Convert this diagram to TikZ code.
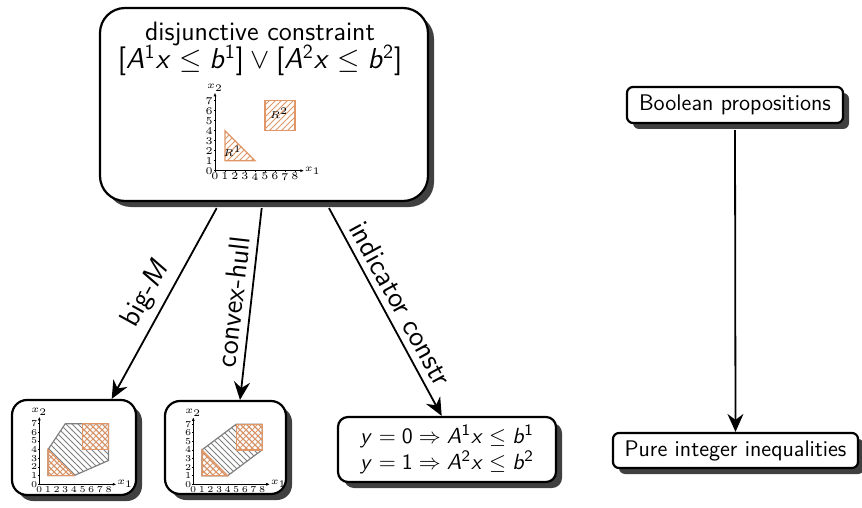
\documentclass[tikz,border=0pt]{standalone}
\usetikzlibrary{shadows,patterns,arrows.meta}
\DeclareMathVersion{sans}
\SetSymbolFont{letters}{sans}{OT1}{cmss}{m}{sl}
\SetSymbolFont{operators}{sans}{OT1}{cmss}{m}{n}
\definecolor{rcol}{RGB}{224,150,102}
\definecolor{shadowc}{RGB}{64,64,64}
\tikzset{
  box/.style={draw, line width=1.1pt, fill=white, inner sep=0pt,
    drop shadow={shadow xshift=3pt, shadow yshift=-3pt, fill=shadowc, opacity=1}},
  conn/.style={line width=0.9pt, -{Stealth[length=9pt,width=8pt,inset=3pt]}},
  lbl/.style={font=\fontsize{14.4}{16}\selectfont\sffamily\mathversion{sans}, sloped, above, midway},
  boxfont/.style={font=\fontsize{11.3}{13.2}\selectfont\sffamily\mathversion{sans}},
  axis/.style={line width=0.35pt, -{Latex[length=1.8pt,width=1.5pt]}},
  tick/.style={line width=0.3pt},
  region/.style={draw=rcol, line width=0.6pt},
  hull/.style={draw=gray, line width=0.6pt, pattern=north west lines, pattern color=gray},
}
\newcommand\myaxes{%
  \draw[axis] (0,0) -- (8.9,0) node[right, inner sep=0.3pt] (xa) {$x_1$};
  \draw[axis] (0,0) -- (0,7.8) node[above, inner sep=0.3pt] (ya) {$x_2$};
  \foreach \i in {0,...,8} \draw[tick] (\i,0) -- (\i,-0.12) node[below, inner sep=0.4pt] (xt\i) {\i};
  \foreach \i in {0,...,7} \draw[tick] (0,\i) -- (-0.12,\i) node[left, inner sep=0.4pt] (yt\i) {\i};
}
\newcommand\hullplot[1]{%
  \fill[white] (1,1) -- (4,1) -- #1 -- cycle;
  \path[hull] (1,1) -- (4,1) -- #1 -- cycle;
  \path[region, pattern=crosshatch, pattern color=rcol] (1,1) -- (4,1) -- (1,4) -- cycle;
  \path[region, pattern=crosshatch, pattern color=rcol] (5,4) rectangle (8,7);
  \myaxes
}
\begin{document}
\begin{tikzpicture}[x=0.5pt, y=-0.5pt]
\useasboundingbox (0,0) rectangle (862,508);

% boxes
\node[box, rounded corners=12.5pt, minimum width=164pt, minimum height=96.5pt] (top) at (264,104.5) {};
\node[font=\fontsize{13.3}{16}\selectfont\sffamily, anchor=base] (t1) at (260,40.7) {disjunctive constraint};
\node[font=\fontsize{13.6}{16}\selectfont\sffamily\mathversion{sans}, anchor=base] (t2) at (260,69) {$[A^1x \le b^1] \vee [A^2x \le b^2]$};

\node[box, rounded corners=7.5pt, minimum width=62pt, minimum height=47.5pt] (m1) at (74,447.5) {};
\node[box, rounded corners=7.5pt, minimum width=60.5pt, minimum height=46.5pt] (m2) at (225.5,447.5) {};
\node[box, boxfont, rounded corners=5pt, minimum width=109pt, minimum height=32.5pt, align=center] (ind) at (447,449.5)
  {$y = 0 \Rightarrow A^1x \le b^1$\\ $y = 1 \Rightarrow A^2x \le b^2$};
\node[box, boxfont, rounded corners=3pt, minimum width=108pt, minimum height=18pt] (bool) at (735,105) {Boolean propositions};
\node[box, boxfont, rounded corners=3pt, minimum width=122.5pt, minimum height=17.5pt] (pure) at (735.5,450.5) {Pure integer inequalities};

% plot origins
\coordinate (o1) at (215,170.7);
\coordinate (o2) at (39.3,484.3);
\coordinate (o3) at (193.3,484.3);

% top plot
\begin{scope}[shift={(o1)}, x=5pt, y=5pt, font=\fontsize{5.2}{6}\selectfont]
  \path[region, pattern=north east lines, pattern color=rcol] (1,1) -- (4,1) -- (1,4) -- cycle;
  \path[region, pattern=north east lines, pattern color=rcol] (5,4) rectangle (8,7);
  \node[inner sep=0.3pt] (r1) at (1.75,1.9) {$R^1$};
  \node[inner sep=0.3pt] (r2) at (6.4,5.7) {$R^2$};
  \myaxes
\end{scope}

% big-M plot
\begin{scope}[shift={(o2)}, x=4.33pt, y=4.33pt, font=\fontsize{4.5}{5}\selectfont]
  \hullplot{(8,2.75) -- (8,7) -- (3,7) -- (1,4)}
\end{scope}

% convex hull plot
\begin{scope}[shift={(o3)}, x=4.3pt, y=4.3pt, font=\fontsize{4.5}{5}\selectfont]
  \hullplot{(8,4) -- (8,7) -- (5,7) -- (1,4)}
\end{scope}

% connectors
\draw[conn] ([xshift=-23.65pt, yshift=-3pt]top.south) -- ([xshift=18.85pt]m1.north) node[lbl] (lb1) {big-$M$};
\draw[conn] ([xshift=-1.15pt, yshift=-3pt]top.south) -- ([xshift=7.25pt]m2.north) node[lbl] (lb2) {convex-hull};
\draw[conn] ([xshift=32.5pt, yshift=-3pt]top.south) -- ([xshift=-2.65pt]ind.north) node[lbl] (lb3) {indicator constr};
\draw[conn] ([yshift=-3pt]bool.south) -- (pure.north);
\end{tikzpicture}
\end{document}
